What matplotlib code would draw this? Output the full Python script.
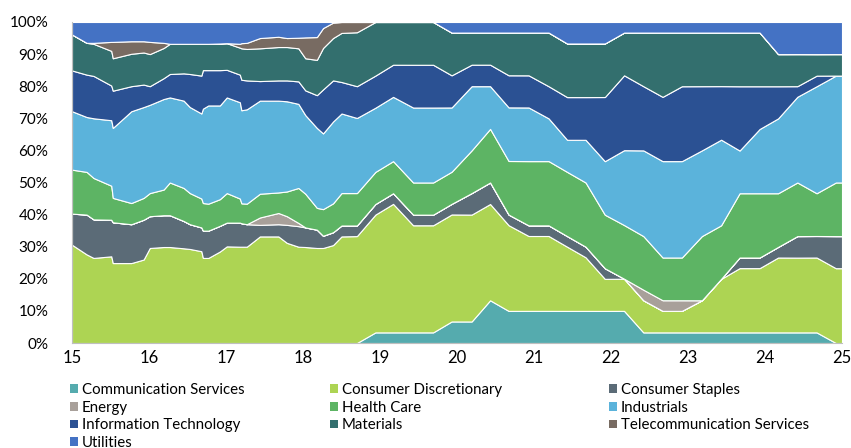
import numpy as np
import matplotlib
matplotlib.use("Agg")
import matplotlib.pyplot as plt
from matplotlib.patches import Patch

plt.rcParams['font.family'] = ['Lato', 'DejaVu Sans']

# Observation dates (fractional year, 15 = 2015)
dates = [15.00, 15.19, 15.28, 15.51, 15.53, 15.77, 15.93, 16.01, 16.19, 16.27,
         16.45, 16.53, 16.68, 16.70, 16.77, 16.92, 17.01, 17.18, 17.20, 17.27,
         17.44, 17.68, 17.79, 17.94, 18.03, 18.18, 18.26, 18.39, 18.50, 18.70,
         18.94, 19.17, 19.43, 19.69, 19.93, 20.19, 20.43, 20.67, 20.93, 21.19,
         21.43, 21.67, 21.92, 22.17, 22.42, 22.67, 22.92, 23.18, 23.43, 23.67,
         23.93, 24.17, 24.42, 24.67, 24.92, 25.00]

# Sector weights in %, stacked bottom to top
communication = [0] * 30 + [3.3, 3.3, 3.3, 3.3, 6.7, 6.7, 13.3, 10, 10, 10,
                            10, 10, 10, 10, 3.3, 3.3, 3.3, 3.3, 3.3, 3.3,
                            3.3, 3.3, 3.3, 3.3, 0, 0]
discretionary = [30.6, 27.6, 26.5, 27.0, 24.9, 24.9, 26.0, 29.6, 29.9, 29.9,
                 29.5, 29.3, 28.6, 26.5, 26.5, 28.5, 30.1, 30.0, 30.0, 30.0,
                 33.2, 33.2, 31.2, 30.0, 29.9, 29.6, 29.6, 30.5, 33.2, 33.3,
                 36.7, 40.0, 33.3, 33.3, 33.3, 33.3, 30.0, 26.7, 23.3, 23.3,
                 20.0, 16.7, 10.0, 10.0, 10.0, 6.7, 6.7, 10.0, 16.7, 20.0,
                 20.0, 23.3, 23.3, 23.3, 23.3, 23.3]
staples = [9.7, 12.4, 12.0, 11.4, 12.7, 12.1, 12.4, 9.9, 9.9, 9.9,
           8.5, 7.7, 7.4, 8.5, 8.5, 8.0, 7.4, 7.5, 7.3, 7.0,
           3.6, 3.8, 5.6, 6.4, 6.1, 5.7, 3.8, 4.0, 3.4, 3.3,
           3.3, 3.3, 3.3, 3.3, 3.3, 6.7, 6.7, 3.3, 3.3, 3.3,
           3.3, 3.3, 3.3, 0, 0, 0, 0, 0, 0, 3.3,
           3.3, 3.3, 6.7, 6.7, 10.0, 10.0]
energy = [0] * 20 + [2.3, 3.5, 2.7, 1.0] + [0] * 6 + [0] * 14 + [3.3, 3.3, 3.3] + [0] * 9
health = [13.7, 13.3, 12.9, 10.6, 7.6, 6.6, 6.8, 7.2, 8.0, 10.2,
          10.3, 9.7, 9.0, 8.6, 8.4, 8.3, 9.2, 7.5, 6.2, 6.4,
          7.4, 6.4, 7.7, 10.9, 10.5, 6.8, 8.3, 9.0, 10.1, 10.1,
          10.0, 10.0, 10.0, 10.0, 10.0, 13.3, 16.7, 16.7, 20.0, 20.0,
          20.0, 20.0, 16.7, 16.7, 16.7, 13.3, 13.3, 20.0, 16.7, 20.0,
          20.0, 16.7, 16.7, 13.3, 16.7, 16.7]
industrials = [18.2, 17.1, 18.6, 20.4, 21.8, 28.6, 28.3, 27.5, 28.2, 26.5,
               27.2, 26.8, 26.5, 29.4, 30.6, 29.2, 29.8, 30.0, 29.0, 29.4,
               29.0, 28.6, 28.1, 26.2, 24.5, 24.9, 23.6, 25.5, 24.8, 23.4,
               20.0, 20.0, 23.3, 23.3, 20.0, 20.0, 13.3, 16.7, 16.7, 13.3,
               10.0, 13.3, 16.7, 23.3, 26.7, 30.0, 30.0, 26.7, 26.7, 13.3,
               20.0, 23.3, 26.7, 33.3, 33.3, 33.3]
info_tech = [12.7, 13.2, 13.2, 10.8, 11.6, 7.8, 7.0, 5.8, 6.5, 7.3,
             8.5, 10.3, 11.8, 12.0, 11.0, 11.0, 8.6, 8.6, 9.5, 9.0,
             6.1, 6.3, 6.5, 7.0, 7.7, 10.2, 13.7, 12.8, 9.8, 9.9,
             10.0, 10.0, 13.3, 13.3, 10.0, 6.7, 6.7, 10.0, 10.0, 10.0,
             13.3, 13.3, 20.0, 23.3, 20.0, 20.0, 23.3, 20.0, 16.7, 20.0,
             13.3, 10.0, 3.3, 3.3, 0, 0]
materials = [11.2, 9.9, 10.0, 10.8, 10.1, 10.1, 10.0, 10.0, 9.4, 9.4,
             9.2, 9.4, 9.9, 8.2, 8.2, 8.3, 8.3, 8.4, 9.8, 9.8,
             10.2, 10.4, 10.4, 10.3, 10.0, 11.0, 12.9, 13.2, 15.3, 16.8,
             16.7, 13.3, 13.3, 13.3, 13.3, 10.0, 10.0, 13.3, 13.3, 16.7,
             16.7, 16.7, 16.7, 13.3, 16.7, 20.0, 16.7, 16.7, 16.7, 16.7,
             16.7, 10.0, 10.0, 6.7, 6.7, 6.7]
telecom = [0, 0, 0.3, 2.8, 5.1, 3.9, 3.5, 3.8, 1.6, 0,
           0, 0, 0, 0, 0, 0, 0, 1.2, 1.6, 1.9,
           3.2, 3.2, 2.8, 3.3, 6.5, 7.1, 6.2, 4.8, 3.4, 3.2] + [0] * 26
utilities = [3.9, 6.5, 6.5, 6.2, 6.2, 6.0, 6.0, 6.2, 6.5, 6.8,
             6.8, 6.8, 6.8, 6.8, 6.8, 6.7, 6.6, 6.8, 6.6, 6.5,
             5.0, 4.6, 5.0, 4.9, 4.8, 4.7, 1.9, 0.2, 0, 0,
             0, 0, 0, 0, 3.3, 3.3, 3.3, 3.3, 3.3, 3.3,
             6.7, 6.7, 6.7, 3.3, 3.3, 3.3, 3.3, 3.3, 3.3, 3.3,
             3.3, 10.0, 10.0, 10.0, 10.0, 10.0]

names = ["Communication Services", "Consumer Discretionary", "Consumer Staples",
         "Energy", "Health Care", "Industrials", "Information Technology",
         "Materials", "Telecommunication Services", "Utilities"]
colors = ["#55abae", "#add453", "#5b6b77", "#a8a09a", "#5db464",
          "#5bb3db", "#2b5193", "#336f6e", "#786b62", "#4472c4"]

series = np.array([communication, discretionary, staples, energy, health,
                   industrials, info_tech, materials, telecom, utilities], dtype=float)
# 100% stacked, like the spreadsheet chart
shares = series / series.sum(axis=0) * 100

fig = plt.figure(figsize=(8.51, 4.48), dpi=100)
ax = fig.add_axes([72 / 851, 1 - 343 / 448, 770 / 851, 321 / 448])

ax.stackplot(dates, *shares, colors=colors, edgecolor='white', linewidth=0.8)

ax.set_xlim(15, 25)
ax.set_ylim(0, 100)
ax.set_yticks(range(0, 101, 10))
ax.set_yticklabels([f"{v}%" for v in range(0, 101, 10)], fontsize=11)
ax.set_xticks(range(15, 26))
ax.set_xticklabels([str(v) for v in range(15, 26)], fontsize=12)
ax.tick_params(axis='y', length=0, pad=17)
ax.tick_params(axis='x', length=0, pad=5)
for side in ['top', 'right']:
    ax.spines[side].set_visible(False)
for side in ['left', 'bottom']:
    ax.spines[side].set_color('#bfbfbf')
    ax.spines[side].set_zorder(5)

# legend: three columns filled row by row, one legend per column
col_x = [70, 330, 609]
for c in range(3):
    idx = list(range(c, len(names), 3))
    handles = [Patch(facecolor=colors[i], edgecolor='none') for i in idx]
    fig.legend(handles, [names[i] for i in idx],
               loc='upper left', bbox_to_anchor=(col_x[c] / 851, 1 - 383 / 448),
               frameon=False, fontsize=10.8, handlelength=0.5, handleheight=0.5,
               handletextpad=0.3, labelspacing=0.24,
               borderaxespad=0, borderpad=0)

fig.savefig("out.png", dpi=100)
